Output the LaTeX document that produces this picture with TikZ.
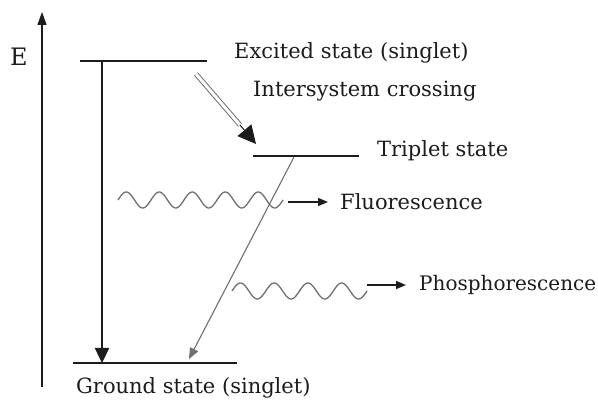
\documentclass[tikz,border=0pt]{standalone}
\usepackage{fontspec}
\setmainfont{DejaVu Serif}
\usetikzlibrary{arrows.meta}
\definecolor{ink}{HTML}{1C1C1C}
\definecolor{faint}{HTML}{707070}
\tikzset{
  levelline/.style={draw=ink,line width=2.6pt},
  labeltext/.style={anchor=west,inner sep=0pt,text=ink,font=\fontsize{21}{23}\selectfont},
  axisarrow/.style={-{Triangle[length=13pt,width=9pt]},line width=1.2pt,draw=ink},
  decayarrow/.style={-{Triangle[length=15pt,width=14pt]},line width=2.4pt,draw=ink},
  iscshaft/.style={draw=faint,double=white,double distance=3pt,line width=1pt},
  isctip/.style={-{Triangle[length=18pt,width=18pt]},line width=1pt,draw=ink},
  phosline/.style={-{Triangle[length=11pt,width=9pt]},line width=1.1pt,draw=faint},
  photonwave/.style={draw=faint,line width=1.3pt,line join=round},
  emitarrow/.style={-{Triangle[length=10pt,width=8pt]},line width=1.6pt,draw=ink}
}
\begin{document}
\begin{tikzpicture}[x=1pt,y=-1pt]
  \useasboundingbox[fill=white] (0,0) rectangle (598,403);
  % energy axis
  \coordinate (axisbot) at (42,387);
  \coordinate (axistop) at (42,12);
  \draw[axisarrow] (axisbot) -- (axistop);
  \node[labeltext,font=\fontsize{24}{26}\selectfont] (elabel) at (10,57) {E};
  % levels
  \coordinate (exL) at (80,61);   \coordinate (exR) at (207,61);
  \coordinate (trL) at (253,156); \coordinate (trR) at (359,156);
  \coordinate (grL) at (73,363);  \coordinate (grR) at (237,363);
  \draw[levelline] (exL) -- (exR);
  \draw[levelline] (trL) -- (trR);
  \draw[levelline] (grL) -- (grR);
  \node[labeltext] (exlabel) at (234,53) {Excited state (singlet)};
  \node[labeltext] (isclabel) at (253,91) {Intersystem crossing};
  \node[labeltext] (trlabel) at (377,151) {Triplet state};
  \node[labeltext] (grlabel) at (76,388) {Ground state (singlet)};
  % transitions
  \coordinate (absorb) at (102,62);
  \coordinate (absorbend) at (102,363);
  \draw[decayarrow] (absorb) -- (absorbend);
  \coordinate (iscA) at (196,74);
  \coordinate (iscB) at (240,125);
  \coordinate (iscC) at (256,144);
  \draw[iscshaft] (iscA) -- (iscB);
  \draw[isctip] (iscB) -- (iscC);
  \coordinate (phosA) at (294,157);
  \coordinate (phosB) at (189,359);
  \draw[phosline] (phosA) -- (phosB);
  % emitted light
  \draw[photonwave] plot[domain=118:283,samples=150] (\x,{200-8*sin((\x-118)/33*360)});
  \coordinate (fA) at (288,202); \coordinate (fB) at (328,202);
  \draw[emitarrow] (fA) -- (fB);
  \node[labeltext] (flabel) at (340,202) {Fluorescence};
  \draw[photonwave] plot[domain=232:367,samples=150] (\x,{291-8*sin((\x-232)/33.75*360)});
  \coordinate (pA) at (367,285); \coordinate (pB) at (406,285);
  \draw[emitarrow] (pA) -- (pB);
  \node[labeltext,font=\fontsize{20}{22}\selectfont] (plabel) at (419,285) {Phosphorescence};
\end{tikzpicture}
\end{document}
